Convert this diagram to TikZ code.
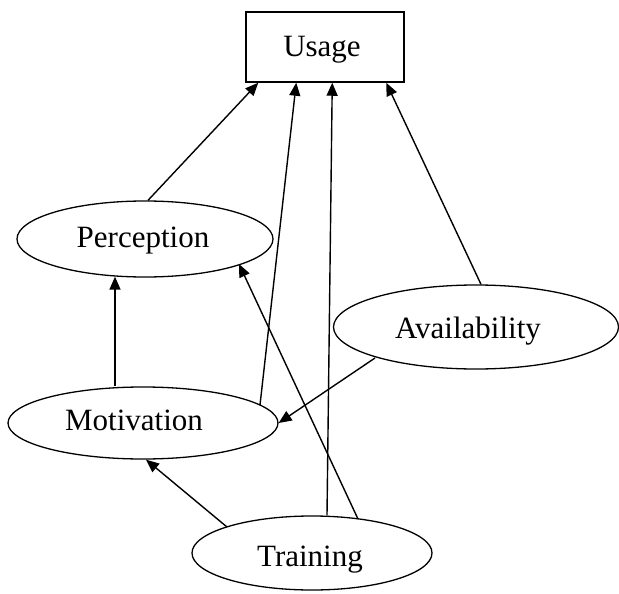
\documentclass[tikz,border=0pt]{standalone}
\usepackage{fontspec}
\setmainfont{Liberation Serif}
\usetikzlibrary{shapes.geometric,arrows.meta,calc}
\newcommand{\shiftlbl}[2]{\raisebox{#1}[\height][\depth]{#2}}
\begin{document}
\begin{tikzpicture}[x=1pt,y=-1pt,
  lbl/.style={font=\fontsize{31}{36}\selectfont, text=black},
  oval/.style={ellipse, draw, line width=1.3pt, inner sep=0pt, lbl},
  boxnode/.style={rectangle, draw, line width=1.5pt, inner sep=0pt, lbl, minimum width=158pt, minimum height=70pt},
  arr/.style={line width=1.4pt, -{Triangle[length=13pt,width=11pt]}}]
\useasboundingbox (0,0) rectangle (619,594);
\node[boxnode] (usage) at (325,47) {\shiftlbl{-3pt}{Usage}\hspace*{6pt}};
\node[oval, minimum width=256pt, minimum height=76pt] (perc) at (145,239) {\shiftlbl{-2pt}{Perception}\hspace*{4pt}};
\node[oval, minimum width=285pt, minimum height=84pt] (avail) at (476,327) {\shiftlbl{-4pt}{Availability}\hspace*{16pt}};
\node[oval, minimum width=270pt, minimum height=72pt] (mot) at (143,423) {\shiftlbl{3pt}{Motivation}\hspace*{18pt}};
\node[oval, minimum width=240pt, minimum height=74pt] (train) at (312,553) {\shiftlbl{-7pt}{Training}\hspace*{4pt}};
% connectors
\draw[arr] ($(perc.north)+(3,0)$) -- ($(usage.south west)+(13,0)$);
\draw[arr] ($(mot.north)+(-28,0)$) -- ($(perc.south)+(-30,-1)$);
\draw[arr] ($(mot.center)+(117,-18)$) -- ($(usage.south west)+(51,0)$);
\draw[arr] ($(train.north)+(15,0)$) -- ($(usage.south west)+(87,0)$);
\draw[arr] ($(train.center)+(46,-34)$) -- ($(perc.center)+(94,25)$);
\draw[arr] ($(train.center)+(-85,-26)$) -- ($(mot.south)+(3,0)$);
\draw[arr] ($(avail.north)+(5,0)$) -- ($(usage.south west)+(141,0)$);
\draw[arr] ($(avail.center)+(-101,31)$) -- (mot.east);
\end{tikzpicture}
\end{document}
